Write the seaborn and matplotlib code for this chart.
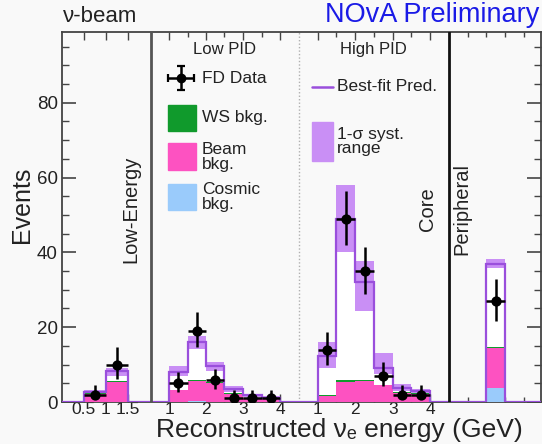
import numpy as np
import matplotlib
matplotlib.use("Agg")
import matplotlib.pyplot as plt
from matplotlib.patches import Rectangle
import seaborn as sns

# ---------------- data ----------------
# Low-Energy section
le_edges = [0.5, 1.0, 1.5]
le_pred = [2.7, 8.3]
le_syst_lo = [2.3, 7.0]
le_syst_hi = [3.1, 9.2]
le_cosmic = [0.1, 0.1]
le_beam = [2.1, 5.3]
le_ws = [0.1, 0.2]
le_data = [2, 10]
le_err_lo = [1.3, 3.9]
le_err_hi = [2.5, 4.6]

# Core, low PID
low_edges = [1.0, 1.5, 2.0, 2.5, 3.0, 3.5, 4.0]
low_pred = [8.0, 16.0, 9.5, 3.4, 1.8, 1.2]
low_syst_lo = [7.0, 14.2, 8.4, 2.8, 1.4, 0.9]
low_syst_hi = [9.6, 17.6, 10.6, 4.3, 2.1, 1.5]
low_cosmic = [0.1, 0.4, 0.1, 0.0, 0.0, 0.0]
low_beam = [3.1, 5.2, 5.0, 2.2, 1.1, 0.7]
low_ws = [0.1, 0.2, 0.2, 0.1, 0.05, 0.05]
low_data = [5, 19, 6, 1, 1, 1]
low_err_lo = [2.4, 4.4, 2.5, 0.8, 0.8, 0.8]
low_err_hi = [3.0, 5.0, 2.8, 2.3, 2.3, 2.3]

# Core, high PID
high_edges = [1.0, 1.5, 2.0, 2.5, 3.0, 3.5, 4.0]
high_pred = [12.3, 49.0, 32.0, 9.2, 3.7, 3.0]
high_syst_lo = [9.0, 40.0, 24.4, 7.4, 2.9, 2.3]
high_syst_hi = [16.0, 58.0, 37.7, 13.0, 4.8, 3.4]
high_cosmic = [0.05, 0.1, 0.1, 0.05, 0.05, 0.05]
high_beam = [1.6, 5.2, 5.4, 4.4, 2.4, 2.2]
high_ws = [0.3, 0.6, 0.5, 0.2, 0.1, 0.1]
high_data = [14, 49, 35, 7, 2, 2]
high_err_lo = [4.0, 7.0, 6.0, 2.8, 1.3, 1.3]
high_err_hi = [4.6, 7.5, 6.3, 3.6, 2.6, 2.6]

# Peripheral
per_edges = [1.0, 1.5]
per_pred = [36.8]
per_syst_lo = [35.8]
per_syst_hi = [38.2]
per_cosmic = [3.8]
per_beam = [10.6]
per_ws = [0.4]
per_data = [27]
per_err_lo = [5.4]
per_err_hi = [6.0]

# tick labels
le_ticks = [0.5, 1.0, 1.5]
le_ticklabels = ["0.5", "1", "1.5"]
pid_ticks = [1, 2, 3, 4]
pid_ticklabels = ["1", "2", "3", "4"]

# ---------------- layout of the composite x axis ----------------
SECT = {
    "le":   dict(x0=0.0,   g0=0.0, g1=2.0,  scale=44.0),
    "low":  dict(x0=88.5,  g0=0.5, g1=4.5,  scale=37.0),
    "high": dict(x0=237.0, g0=0.5, g1=4.5,  scale=37.5),
    "per":  dict(x0=387.0, g0=0.0, g1=2.45, scale=37.5),
}


def xmap(sec, g):
    s = SECT[sec]
    return s["x0"] + s["scale"] * (np.asarray(g, float) - s["g0"])


C_BAND = "#c98ff5"
C_LINE = "#9a4fdc"
C_BEAM = "#fd52c1"
C_WS = "#109a2c"
C_COS = "#9acbfb"
C_TXT = "#222222"
BG = "#f9f9f9"

sns.set_theme(style="ticks")
FONT = ["Liberation Sans", "DejaVu Sans"]
plt.rcParams["font.family"] = FONT
plt.rcParams["mathtext.fontset"] = "custom"
plt.rcParams["mathtext.rm"] = "Liberation Sans"

fig = plt.figure(figsize=(5.42, 4.44), dpi=100, facecolor=BG)
ax = fig.add_axes([62 / 542, 42 / 444, 479 / 542, 370 / 444], facecolor=BG)
ax.set_xlim(0, 479)
ax.set_ylim(0, 98.9)

datasets = [
    ("le", le_edges, le_pred, le_syst_lo, le_syst_hi, le_cosmic, le_beam, le_ws, le_data, le_err_lo, le_err_hi),
    ("low", low_edges, low_pred, low_syst_lo, low_syst_hi, low_cosmic, low_beam, low_ws, low_data, low_err_lo, low_err_hi),
    ("high", high_edges, high_pred, high_syst_lo, high_syst_hi, high_cosmic, high_beam, high_ws, high_data, high_err_lo, high_err_hi),
    ("per", per_edges, per_pred, per_syst_lo, per_syst_hi, per_cosmic, per_beam, per_ws, per_data, per_err_lo, per_err_hi),
]

for sec, edges, pred, slo, shi, cos, beam, ws, data, elo, ehi in datasets:
    e = xmap(sec, edges)
    cos = np.asarray(cos, float)
    beam = np.asarray(beam, float)
    ws = np.asarray(ws, float)
    # white body of prediction, then syst. band
    ax.stairs(shi, e, baseline=0, fill=True, color="white", zorder=1)
    ax.stairs(shi, e, baseline=slo, fill=True, color=C_BAND, zorder=2)
    # stacked backgrounds
    ax.stairs(cos, e, baseline=0, fill=True, color=C_COS, zorder=3)
    ax.stairs(cos + beam, e, baseline=cos, fill=True, color=C_BEAM, zorder=3)
    ax.stairs(cos + beam + ws, e, baseline=cos + beam, fill=True, color=C_WS, zorder=3)
    # best-fit prediction line across the full section
    s = SECT[sec]
    full_edges = xmap(sec, [s["g0"]] + list(edges) + [s["g1"]])
    full_vals = [0.0] + list(pred) + [0.0]
    ax.stairs(full_vals, full_edges, baseline=None, color=C_LINE, lw=1.6, zorder=4)
    # data
    centers = 0.5 * (e[:-1] + e[1:])
    half = 0.5 * (e[1:] - e[:-1])
    ax.errorbar(centers, data, xerr=half, yerr=[elo, ehi], fmt="none",
                ecolor="black", elinewidth=1.8, capsize=0, zorder=5)
    sns.scatterplot(x=centers, y=data, color="black", s=55, edgecolor="black",
                    linewidth=0, ax=ax, zorder=6, legend=False)

# section dividers
ax.axvline(88.5, color="#555555", lw=2.0, zorder=7)
ax.axvline(237.0, color="#b0b0b0", lw=1.0, ls=(0, (1, 1.5)), zorder=0.5)
ax.axvline(387.0, color="#111111", lw=2.0, zorder=7)

# ticks
ax.set_yticks(np.arange(0, 81, 20))
ax.set_yticks(np.arange(0, 99, 5), minor=True)
major_x = list(xmap("le", le_ticks)) + list(xmap("low", pid_ticks)) + list(xmap("high", pid_ticks))
major_lab = le_ticklabels + pid_ticklabels + pid_ticklabels
ax.set_xticks(major_x)
ax.set_xticklabels(major_lab)
minor_x = list(xmap("low", [1.5, 2.5, 3.5])) + list(xmap("high", [1.5, 2.5, 3.5])) + \
    list(xmap("per", [0.5, 1.0, 1.5, 2.0]))
ax.set_xticks(minor_x, minor=True)
ax.tick_params(axis="y", which="major", direction="in", length=10, width=1.2,
               left=True, right=True, labelsize=13.5, pad=3, colors="#444444", labelcolor=C_TXT)
ax.tick_params(axis="y", which="minor", direction="in", length=5, width=1.0,
               left=True, right=True, colors="#444444")
ax.tick_params(axis="x", which="major", direction="in", length=6, width=1.0,
               top=True, bottom=True, labelsize=12.5, pad=0, colors="#444444", labelcolor=C_TXT)
ax.tick_params(axis="x", which="minor", direction="in", length=3.5, width=1.0,
               top=True, bottom=True, colors="#444444")
for sp in ax.spines.values():
    sp.set_visible(True)
    sp.set_color("#444444")
    sp.set_linewidth(1.3)

# axis titles
ax.text(-0.0835, 0.534, "Events", transform=ax.transAxes, rotation=90,
        ha="center", va="center", fontsize=18, color=C_TXT)
xlab = fig.text(339 / 542, 0.5, "Reconstructed νₑ energy (GeV)",
                ha="center", va="top", fontsize=18, color=C_TXT)

# header texts
fig.text(63 / 542, 1 - 22 / 444, "ν-beam", fontsize=16, color=C_TXT, ha="left", va="baseline")
fig.text(539 / 542, 1 - 22 / 444, "NOvA Preliminary", fontsize=19.5, color="#1a1ae6",
         ha="right", va="baseline")

# section labels
ax.text(163, 94.1, "Low PID", fontsize=12, ha="center", va="center", color=C_TXT)
ax.text(311, 94.1, "High PID", fontsize=12, ha="center", va="center", color=C_TXT)
ax.text(69, 51.5, "Low-Energy", fontsize=14.5, rotation=90, ha="center", va="center", color=C_TXT)
ax.text(366, 51.5, "Core", fontsize=14.5, rotation=90, ha="center", va="center", color=C_TXT)
ax.text(400, 51.5, "Peripheral", fontsize=14.5, rotation=90, ha="center", va="center", color=C_TXT)

# legend (low PID part)
ax.errorbar([119], [86.6], xerr=[13], yerr=[3.2], fmt="o", color="black", ms=6,
            elinewidth=1.8, capsize=3, capthick=1.6, zorder=6)
ax.text(140, 86.6, "FD Data", fontsize=12.5, ha="left", va="center", color=C_TXT)
ax.add_patch(Rectangle((106, 72.4), 28, 7.1, color=C_WS, zorder=6))
ax.text(140, 76.0, "WS bkg.", fontsize=12.5, ha="left", va="center", color=C_TXT)
ax.add_patch(Rectangle((106, 61.9), 28, 7.2, color=C_BEAM, zorder=6))
ax.text(140, 65.5, "Beam\nbkg.", fontsize=12.5, ha="left", va="center",
        linespacing=0.95, color=C_TXT)
ax.add_patch(Rectangle((106, 51.2), 28, 7.2, color=C_COS, zorder=6))
ax.text(140, 54.8, "Cosmic\nbkg.", fontsize=12.5, ha="left", va="center",
        linespacing=0.95, color=C_TXT)

# legend (high PID part)
ax.plot([250, 271], [84.3, 84.3], color=C_LINE, lw=1.8, zorder=6)
ax.text(275, 84.3, "Best-fit Pred.", fontsize=12.5, ha="left", va="center", color=C_TXT)
ax.add_patch(Rectangle((250, 64.3), 21, 10.6, color=C_BAND, zorder=6))
ax.text(275, 69.6, "1-σ syst.\nrange", fontsize=12.5, ha="left", va="center",
        linespacing=0.95, color=C_TXT)

# place the x title just below the tick labels, shrinking it if it would be cut off
fig.canvas.draw()
renderer = fig.canvas.get_renderer()
tick_bottom = min(t.get_window_extent(renderer).y0
                  for t in ax.get_xticklabels() if t.get_text())
for fs in np.arange(19.0, 14.9, -0.25):
    xlab.set_fontsize(fs)
    xlab.set_y((tick_bottom - 0.5) / fig.bbox.height)
    fig.canvas.draw()
    if xlab.get_window_extent(renderer).y0 >= 0.5:
        break

fig.savefig("out.png", dpi=100, facecolor=BG)
